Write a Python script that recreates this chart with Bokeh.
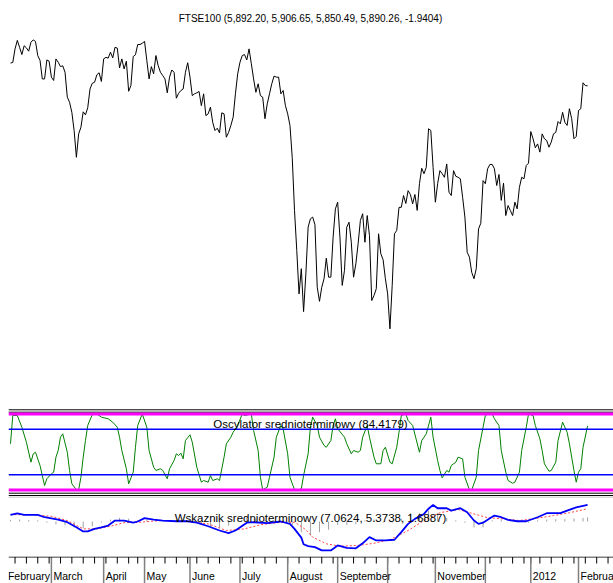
import pandas as pd
from bokeh.plotting import figure
from bokeh.layouts import column
from bokeh.models import Range1d, Span, Label
from bokeh.core.properties import value
from bokeh.embed import file_html
from bokeh.resources import INLINE

FONT = "Liberation Sans"

# ---------------- data ----------------
uk_holidays = ["2011-04-22", "2011-04-25", "2011-04-29", "2011-05-02", "2011-05-30",
               "2011-08-29", "2011-12-26", "2011-12-27", "2012-01-02"]
first_date = "2011-02-03"

close = [
    5979, 5981, 6034, 6067, 6040, 6012, 6046, 6038, 6025, 6060,
    6069, 6063, 6008, 5989, 5917, 5917, 5991, 5986, 5924, 5911,
    5995, 5982, 5965, 5968, 5943, 5846, 5826, 5787, 5716, 5612,
    5703, 5729, 5789, 5777, 5805, 5878, 5900, 5904, 5933, 5941,
    5907, 5995, 6001, 5998, 6021, 5999, 6040, 6037, 5960, 5995,
    5956, 5986, 5869, 5891, 6004, 6011, 6051, 6051, 6056, 6063,
    5989, 5917, 5965, 5937, 6008, 5969, 5943, 5930, 5917, 5863,
    5924, 5952, 5943, 5842, 5861, 5872, 5878, 5943, 5980, 5924,
    5852, 5859, 5863, 5868, 5813, 5859, 5774, 5781, 5807, 5748,
    5716, 5725, 5707, 5785, 5781, 5690, 5709, 5736, 5768, 5859,
    5937, 5982, 6008, 6012, 5991, 6034, 5976, 5917, 5865, 5898,
    5852, 5846, 5762, 5820, 5859, 5898, 5928, 5924, 5924, 5859,
    5872, 5813, 5781, 5736, 5612, 5405, 5249, 5080, 5178, 5011,
    5158, 5340, 5372, 5379, 5349, 5106, 5051, 5106, 5139, 5219,
    5145, 5145, 5301, 5411, 5437, 5301, 5113, 5171, 5340, 5359,
    5281, 5145, 5197, 5275, 5366, 5392, 5281, 5385, 5307, 5054,
    5074, 5100, 5314, 5236, 5213, 5139, 5080, 4944, 5113, 5314,
    5327, 5417, 5417, 5463, 5432, 5482, 5467, 5431, 5467, 5405,
    5509, 5569, 5548, 5573, 5723, 5716, 5573, 5437, 5509, 5560,
    5548, 5534, 5586, 5476, 5463, 5560, 5538, 5534, 5528, 5456,
    5379, 5242, 5223, 5164, 5139, 5178, 5333, 5355, 5521, 5509,
    5567, 5584, 5584, 5567, 5502, 5545, 5444, 5511, 5385, 5424,
    5405, 5385, 5437, 5411, 5495, 5534, 5528, 5580, 5589, 5712,
    5684, 5649, 5664, 5632, 5703, 5684, 5677, 5651, 5671, 5703,
    5709, 5751, 5742, 5787, 5748, 5736, 5801, 5762, 5684, 5693,
    5794, 5801, 5902, 5891, 5890.26,
]
last_ohlc = [5892.20, 5906.65, 5850.49, 5890.26]
last_change = -1.9404

osc_day = [0, 1, 3, 5, 7, 9, 10, 11, 13, 14, 15, 16, 18, 19, 20, 21, 22, 23, 25, 26, 27, 29, 30, 31,
           32, 33, 34, 36, 38, 40, 43, 45, 47, 48, 49, 51, 52, 54, 55, 56, 58, 60, 61, 63, 64, 66,
           67, 69, 70, 72, 73, 74, 75, 76, 77, 79, 80, 82, 84, 85, 87, 88, 89, 91, 92, 94, 95, 97,
           98, 100, 102, 103, 106, 107, 109, 110, 111, 113, 114, 116, 117, 119, 120, 122, 123, 125,
           127, 128, 129, 131, 132, 133, 135, 136, 138, 139, 141, 142, 143, 144, 147, 148, 150, 151,
           153, 154, 155, 157, 158, 160, 161, 163, 164, 165, 167, 168, 170, 171, 172, 174, 175, 177,
           180, 181, 183, 185, 186, 188, 189, 190, 192, 193, 194, 196, 197, 199, 200, 202, 203, 205,
           206, 208, 209, 210, 212, 213, 215, 216, 218, 219, 221, 222, 224, 225, 227, 228, 230, 231,
           233, 234, 235, 237, 238, 240, 241, 243, 245, 246, 248, 249, 250, 251, 252, 254]
osc_val = [60.8, 98, 98, 82.6, 62.9, 36.6, 47.6, 49.7, 32.2, 19, 5.9, 14.7, 21.3, 23.4, 43.2, 52,
           69.5, 73.9, 49.7, 25.7, 8.2, 0.3, 0.3, 16.8, 43.2, 65.1, 84.9, 99.3, 100, 95.8, 93.7,
           89.2, 82.6, 69.5, 52, 27.9, 8.2, 23.4, 56.3, 84.9, 100, 82.6, 52, 30, 25.7, 27.9, 25.7,
           14.7, 27.9, 38.8, 47.6, 45.4, 48.4, 41, 65.1, 72.6, 62.9, 30, 10.3, 12.5, 10.3, 19, 12.5,
           14.7, 12.5, 43.2, 60.8, 69.5, 76, 84.9, 100, 98, 100, 78.3, 52, 16.8, 0.3, 3.7, 16.8,
           43.2, 69.5, 84.9, 80.5, 47.6, 16.8, 0.3, 0.3, 1.6, 19, 47.6, 82.6, 95.8, 84.9, 69.5,
           58.6, 56.3, 65.1, 84.9, 93.7, 80.5, 69.5, 60.8, 47.6, 52, 49.7, 52, 69.5, 84.9, 69.5,
           43.2, 34.5, 34.5, 52, 56.3, 36.6, 34.5, 56.3, 76, 98, 100, 91.4, 84.9, 49.7, 65.1, 73.9,
           95.8, 69.5, 38.8, 25.7, 16, 25.7, 23.4, 32.2, 36.6, 43.2, 41, 16.8, 0.3, 0, 16.8, 52,
           82.6, 98, 100, 100, 93.7, 84.9, 52, 23.4, 12.5, 8.9, 10.3, 23.4, 52, 82.6, 100, 98, 84.9,
           67.4, 52, 34.5, 24.7, 25.7, 36.6, 65.1, 89.2, 76, 60.8, 25.7, 10.3, 23.4, 27.9, 56.3,
           84.4179]
osc_levels_outer = [0, 100]
osc_levels_inner = [20, 80]

macd_day = [0, 3, 6, 12, 15, 21, 25, 29, 32, 34, 37, 40, 43, 46, 50, 54, 56, 59, 63, 67, 73, 78,
            82, 87, 92, 96, 99, 104, 107, 113, 119, 123, 125, 128, 129, 131, 134, 137, 141, 144,
            148, 152, 155, 158, 161, 165, 169, 172, 175, 178, 182, 184, 186, 188, 192, 194, 198,
            201, 204, 206, 208, 211, 213, 216, 219, 223, 227, 232, 236, 242, 245, 249, 254]
macd_val = [2.8, 3.4, 2.8, 2.8, 1.8, 0.8, -0.3, -2.4, -4.2, -4.2, -3.1, -2.5, -1.7, 0.4, 0.4,
            -0.5, 0, 1.4, 0.8, 0.4, 0.1, 0.1, -0.5, -2, -3.8, -4.9, -3.8, -0.5, -0.3, -0.7, 0, -1,
            -3.1, -6.8, -9.6, -10.4, -10.8, -12.2, -12.2, -10.1, -11.1, -11.3, -9.2, -6.6, -8, -8,
            -7.7, -4.5, -1, 1.1, 3.2, 5.4, 7, 5.6, 5.6, 4.6, 5.6, 3.9, 0.4, -1, -0.5, 1.4, 2.5, 1.8,
            0.7, 0.1, 0.1, 1.8, 3.5, 3.5, 4.6, 6, 7.0624]

signal_day = [0, 10, 18, 25, 32, 38, 44, 50, 57, 66, 78, 87, 95, 103, 110, 117, 125, 127, 130,
              133, 139, 145, 153, 160, 167, 175, 182, 189, 197, 204, 210, 217, 224, 232, 239,
              246, 254]
signal_val = [2.9, 2.8, 2.2, 0.4, -3.1, -3.1, -2, -0.5, -0.3, 0.4, 0, -1, -3.8, -3.1, -1.4, -0.5,
              -0.3, -1.5, -3.5, -6.6, -9.4, -10.4, -10.1, -9.2, -7.7, -3.8, 0.4, 3.7, 5.1, 3.2,
              1.6, 1.1, 0.4, 1.4, 2.5, 3.7, 5.3738]

hist_day = [0, 4, 8, 12, 16, 20, 24, 28, 32, 36, 40, 44, 48, 52, 56, 60, 64, 68, 72, 76, 80, 84,
            88, 92, 96, 100, 104, 108, 112, 116, 120, 124, 128, 132, 136, 140, 144, 148, 152, 156,
            160, 164, 168, 172, 176, 180, 184, 188, 192, 196, 200, 204, 208, 212, 216, 220, 224,
            228, 232, 236, 240, 244, 248, 252, 254]
hist_val = [0.6, 0.8, 0.6, 0.5, -0.5, -1.2, -1.5, -2.5, -2.8, -2, -0.5, 0.8, 1.5, 1.2, 0.6, 1.0,
            0.5, 0.2, 0.3, 0.2, -0.5, -1.5, -2.2, -2.6, -1.8, 0.5, 1.8, 1.2, 0.6, 0.3, 0.5, -1.5,
            -4.5, -6, -4.5, -3.5, -1.5, -1.5, -1.2, 0.5, 0.8, -0.5, -0.5, 1.2, 3.5, 3.5, 4.5, 3.5,
            1.5, 0.5, -0.5, -2.5, -2.5, 0.5, 0.8, 0.2, -0.3, -0.5, 0.5, 0.8, 1.0, 1.0, 1.3, 1.5,
            1.6887]

month_labels = ["February", "March", "April", "May", "June", "July", "August", "September",
                "", "November", "", "2012", "February"]

# ---------------- calendar / positions ----------------
calendar = pd.bdate_range("2011-02-01", "2012-02-29", freq="C", holidays=uk_holidays)
first = int(calendar.get_loc(pd.Timestamp(first_date)))
n = len(close)
xs = [first + i for i in range(n)]

month_keys = []
month_x = []
for i, d in enumerate(calendar):
    key = (d.year, d.month)
    if key not in month_keys:
        month_keys.append(key)
        month_x.append(i)
month_x = month_x[:len(month_labels)]

week_x = []
seen = set()
for i, d in enumerate(calendar):
    wk = d.isocalendar()[:2]
    if wk not in seen:
        seen.add(wk)
        week_x.append(i)

# layout constants (pixels)
W = 613
LEFT = 8
PX_DAY = 2.272
x_lo = first - 2 / PX_DAY          # frame starts 8px from the page edge
x_hi = x_lo + (W - LEFT) / PX_DAY
xr = Range1d(x_lo, x_hi)
x_mid = x_lo + (310 - LEFT) / PX_DAY


def base(height, yr):
    p = figure(width=W, height=height, x_range=xr, y_range=yr, x_axis_type=None,
               y_axis_type=None, toolbar_location=None, output_backend="svg", title=None,
               min_border=0, min_border_left=LEFT, min_border_right=0, min_border_top=0,
               min_border_bottom=0)
    p.outline_line_color = None
    p.grid.visible = False
    p.background_fill_color = "white"
    p.border_fill_color = "white"
    return p


# ---------------- price pane ----------------
H1 = 408
SC = 3.894
top_val = 6222.4
p1 = base(H1, Range1d(top_val - H1 * SC, top_val))
p1.line(xs, close, line_color="#000000", line_width=1)
title_txt = "FTSE100 ({:,.2f}, {:,.2f}, {:,.2f}, {:,.2f}, {:.4f})".format(*last_ohlc, last_change)
p1.add_layout(Label(x=x_mid, y=top_val - 18 * SC, text=title_txt,
                    text_align="center", text_baseline="middle", text_font=FONT,
                    text_font_size="10px", text_color="#000000"))

# ---------------- oscillator pane ----------------
H2 = 88
OSC = 0.76
o_top = 100 + 5.5 / OSC
p2 = base(H2, Range1d(o_top - H2 / OSC, o_top))
for lv in [o_top - 1.3 / OSC, o_top - 3.7 / OSC, o_top - 84.7 / OSC, o_top - 87 / OSC]:
    p2.add_layout(Span(location=lv, dimension="width", line_color="#000000", line_width=1))
for lv in osc_levels_outer:
    p2.add_layout(Span(location=lv, dimension="width", line_color="#ff00ff", line_width=3))
for lv in osc_levels_inner:
    p2.add_layout(Span(location=lv, dimension="width", line_color="#0000ff", line_width=1.5))
p2.line([first + d for d in osc_day], osc_val, line_color="#008000", line_width=1)
p2.add_layout(Label(x=x_mid, y=o_top - 15 / OSC,
                    text="Oscylator srednioterminowy ({})".format(str(osc_val[-1]).replace(".", ",")),
                    text_align="center", text_baseline="middle", text_font=FONT,
                    text_font_size="11.5px", text_color="#000000"))

# ---------------- MACD pane ----------------
H3 = 60
MS = 2.37
m_top = 25 / MS
p3 = base(H3, Range1d(m_top - H3 / MS, m_top))
p3.add_layout(Span(location=m_top - 0.5 / MS, dimension="width", line_color="#c8c8c8",
                   line_width=1.5))
hx = [first + d for d in hist_day]
p3.segment(x0=hx, y0=[0] * len(hx), x1=hx, y1=hist_val, line_color="#a0a0a0", line_width=1)
p3.line([first + d for d in signal_day], signal_val, line_color="#ff4444", line_width=1,
        line_dash="2 2")
p3.line([first + d for d in macd_day], macd_val, line_color="#0000ff", line_width=1.8)
p3.add_layout(Label(x=x_mid, y=m_top - 21 / MS,
                    text="Wskaznik srednioterminowy ({}, {}, {})".format(macd_val[-1], signal_val[-1], hist_val[-1]),
                    text_align="center", text_baseline="middle", text_font=FONT,
                    text_font_size="11.5px", text_color="#000000"))

# ---------------- time axis ----------------
H4 = 27
p4 = base(H4, Range1d(H4, 0))
p4.add_layout(Span(location=0.5, dimension="width", line_color="#000000", line_width=1))
p4.segment(x0=week_x, y0=[0.5] * len(week_x), x1=week_x, y1=[7] * len(week_x),
           line_color="#000000", line_width=1)
p4.segment(x0=month_x, y0=[0.5] * len(month_x), x1=month_x, y1=[H4] * len(month_x),
           line_color="#808080", line_width=1.5)
p4.text(x=[m + 2 / PX_DAY for m in month_x], y=[19] * len(month_x), text=month_labels,
        text_align="left", text_baseline="middle", text_font=value(FONT),
        text_font_size="10.5px", text_color="#000000")

layout = column(p1, p2, p3, p4, spacing=0)
open("out.html", "w").write(file_html(layout, INLINE))
